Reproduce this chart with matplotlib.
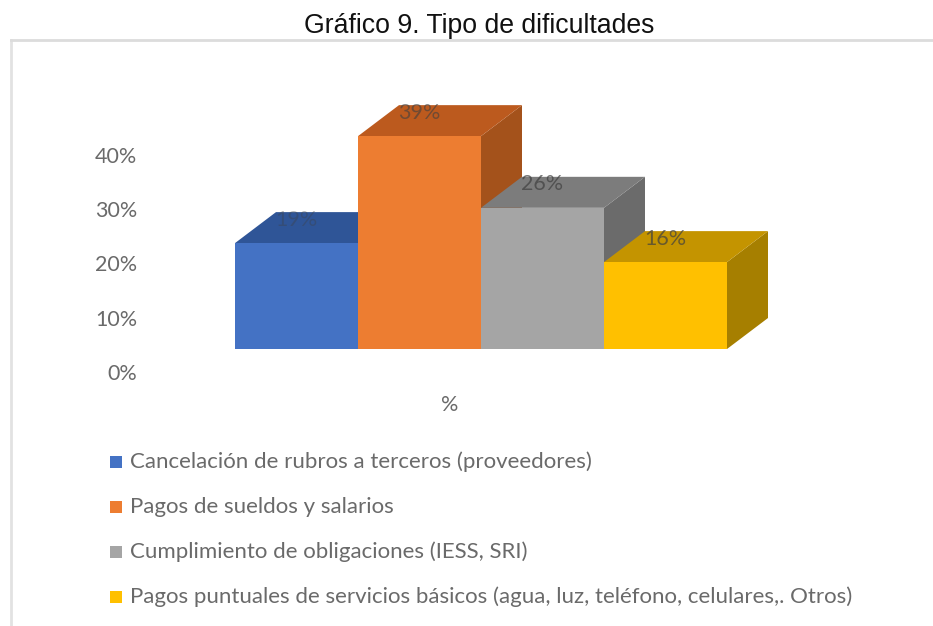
import matplotlib
matplotlib.use("Agg")
import matplotlib.pyplot as plt
from matplotlib.patches import Polygon, Rectangle

categories = ["Cancelación de rubros a terceros (proveedores)",
              "Pagos de sueldos y salarios",
              "Cumplimiento de obligaciones (IESS, SRI)",
              "Pagos puntuales de servicios básicos (agua, luz, teléfono, celulares,. Otros)"]
values = [19.5, 39.2, 26, 16]
value_labels = ["19%", "39%", "26%", "16%"]
front_colors = ["#4472C4", "#ED7D31", "#A5A5A5", "#FFC000"]
top_colors = ["#2F5597", "#BC5A1E", "#7C7C7C", "#C49400"]
side_colors = ["#264478", "#A4521B", "#6B6B6B", "#A67F00"]
y_ticks = [0, 10, 20, 30, 40]

W, H = 933, 626
fig = plt.figure(figsize=(W / 100, H / 100), dpi=100)
plt.rcParams["font.family"] = "Lato"

# axes covers the bars: x in bar widths, y in percent
left, right, bottom = 235, 727, 349
px_per_pct = 5.43
top_pct = 50
ax = fig.add_axes([left / W, (H - bottom) / H, (right - left) / W, top_pct * px_per_pct / H])
ax.set_xlim(0, 4)
ax.set_ylim(0, top_pct)
ax.axis("off")

depth_x = 41 / 123
depth_y = 31 / px_per_pct
drop = 25 / px_per_pct  # tick labels sit lower than the front of the bars

for i, v in enumerate(values):
    ax.add_patch(Polygon([(i + 1, 0), (i + 1 + depth_x, depth_y), (i + 1 + depth_x, v + depth_y), (i + 1, v)],
                         color=side_colors[i], lw=0, clip_on=False, zorder=2 + i))
    ax.add_patch(Polygon([(i, v), (i + depth_x, v + depth_y), (i + 1 + depth_x, v + depth_y), (i + 1, v)],
                         color=top_colors[i], lw=0, clip_on=False, zorder=2 + i))
    ax.bar(i + 0.5, v, width=1, color=front_colors[i], zorder=2 + i)

# labels are nearly lost against the top faces in the original
label_alpha = [0.35, 0.6, 0.7, 0.7]
for i, v in enumerate(values):
    ax.text(i + 0.5, v + 23.5 / px_per_pct, value_labels[i], ha="center", va="center",
            fontsize=15.5, color="#404040", alpha=label_alpha[i], zorder=10)

for t in y_ticks:
    ax.text(-0.795, t - drop, "%d%%" % t, ha="right", va="center", fontsize=15.5, color="#6A6A6A")
ax.text(1.745, -10.3, "%", ha="center", va="center", fontsize=15.5, color="#6A6A6A")

# figure level stuff in pixels
over = fig.add_axes([0, 0, 1, 1], zorder=-1)
over.set_xlim(0, W)
over.set_ylim(H, 0)
over.axis("off")
over.plot([11, 11], [H, 40], color="#E2E2E2", lw=2)
over.plot([11, W], [40, 40], color="#DCDCDC", lw=2)

fig.text(479 / W, 1 - 33 / H, "Gráfico 9. Tipo de dificultades", ha="center", va="baseline",
         fontsize=19.2, color="#111111", family="Liberation Sans")

legend_y = [462, 507, 552, 597]
for i, name in enumerate(categories):
    over.add_patch(Rectangle((110, legend_y[i] - 6), 12, 12, color=front_colors[i], lw=0))
    over.text(130, legend_y[i], name, ha="left", va="center", fontsize=16, color="#6A6A6A")

fig.savefig("out.png", dpi=100)
